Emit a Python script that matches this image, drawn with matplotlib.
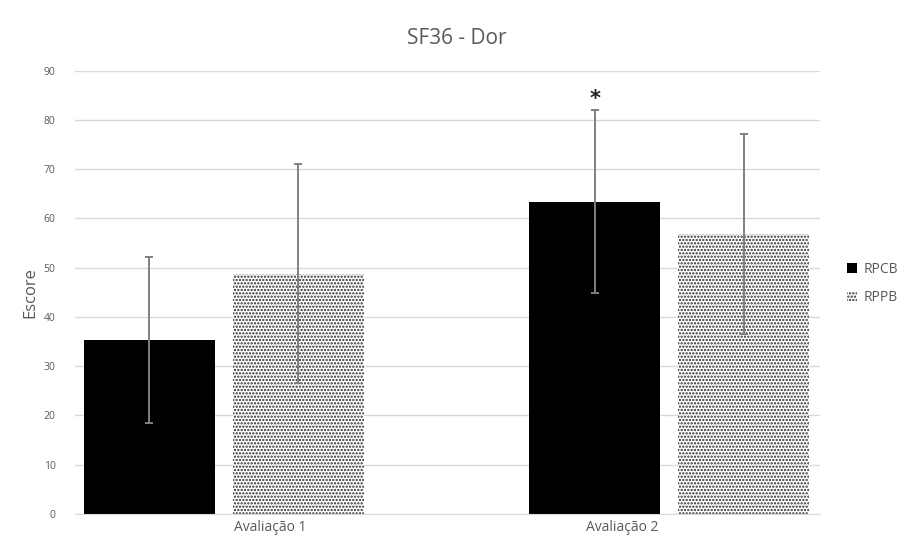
import numpy as np
import matplotlib.pyplot as plt

plt.rcParams['font.family'] = ['Open Sans', 'DejaVu Sans']
plt.rcParams['hatch.linewidth'] = 1.1

categories = ['Avaliação 1', 'Avaliação 2']
series = ['RPCB', 'RPPB']
rpcb_mean = [35.3, 63.4]
rpcb_sd = [16.8, 18.6]
rppb_mean = [48.8, 56.9]
rppb_sd = [22.2, 20.3]
y_ticks = list(range(0, 100, 10))

gray = '#595959'
x = np.arange(len(categories))
w = 0.294
off = 0.167

fig = plt.figure(figsize=(9.14, 5.43), dpi=100)
ax = fig.add_axes([0.082, 0.0534, 0.815, 0.8166])

err_kw = dict(ecolor='#808080', elinewidth=1.4, capsize=3, capthick=1.4)
ax.bar(x - off, rpcb_mean, w, yerr=rpcb_sd, color='black', label=series[0],
       error_kw=err_kw, zorder=2)
ax.bar(x + off, rppb_mean, w, yerr=rppb_sd, color='white', edgecolor='#2a2a2a',
       hatch='.....', linewidth=0, label=series[1], error_kw=err_kw, zorder=2)

# significance mark
ax.text(x[1] - off, rpcb_mean[1] + rpcb_sd[1] + 2.3, '*', ha='center', va='center',
        fontsize=15, fontweight='bold', color='#222222', family='DejaVu Sans')

ax.set_xlim(-0.334, 1.338)
ax.set_ylim(0, 90)
ax.set_yticks(y_ticks)
ax.set_xticks(x + np.array([0.105, -0.105]))
ax.set_xticklabels(categories, fontsize=10, color=gray)
ax.tick_params(axis='y', labelsize=7.5, colors=gray, length=0, pad=14)
ax.tick_params(axis='x', length=0, pad=4)
ax.grid(axis='y', color='#d9d9d9', linewidth=1, zorder=0)
ax.set_axisbelow(True)
for s in ['top', 'right', 'left']:
    ax.spines[s].set_visible(False)
ax.spines['bottom'].set_color('#d9d9d9')
ax.set_ylabel('Escore', fontsize=12, color=gray, labelpad=4)
fig.text(0.5, 0.93, 'SF36 - Dor', ha='center', va='center', fontsize=15, color=gray)

ax.legend(loc='center left', bbox_to_anchor=(1.02, 0.52), frameon=False,
          fontsize=10, labelcolor=gray, handlelength=0.7, handleheight=0.7,
          handletextpad=0.5, labelspacing=0.9)

fig.savefig('out.png', dpi=100)
